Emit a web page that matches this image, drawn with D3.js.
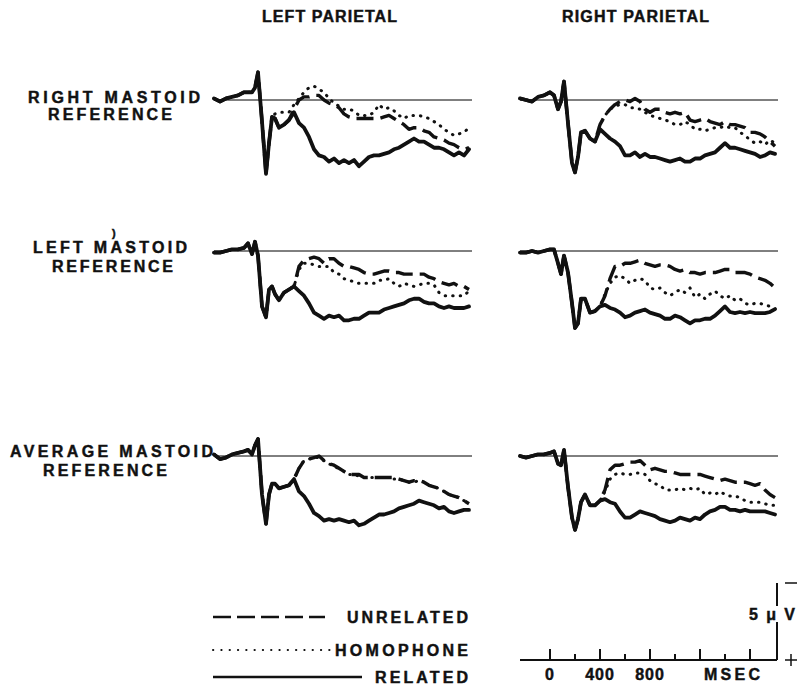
<!DOCTYPE html>
<html>
<head>
<meta charset="utf-8">
<script src="https://cdn.jsdelivr.net/npm/d3@7"></script>
<style>
  body { margin: 0; background: #fff; }
  svg text { font-family: "Liberation Sans", Arial, sans-serif; font-weight: bold; fill: #111; stroke: #111; stroke-width: 0.45; }
  svg text.title { font-family: "Liberation Sans Narrow", "Liberation Sans", Arial, sans-serif; }
</style>
</head>
<body>
<svg id="chart" width="797" height="689"></svg>
<script>
// sample times (ms); early part is denser to catch the fast deflections
const times = [-240, -192, -144, -96, -48, 0, 32, 64, 88, 112, 144, 176, 200, 224, 248,
  280, 320, 360, 400, 440, 480, 520, 560, 600, 640, 680, 720, 760, 800, 840, 880, 920, 960, 1000,
  1040, 1080, 1120, 1160, 1200, 1240, 1280, 1320, 1360, 1400, 1440, 1480, 1520, 1560, 1600,
  1640, 1680, 1720, 1760, 1800];

const columnTitles = ['LEFT PARIETAL', 'RIGHT PARIETAL'];
const rowTitles = [['RIGHT MASTOID', 'REFERENCE'], ['LEFT MASTOID', 'REFERENCE'], ['AVERAGE MASTOID', 'REFERENCE']];
const conditions = ['UNRELATED', 'HOMOPHONE', 'RELATED'];

// amplitudes in microvolts, positive plotted downward
const rmLeftUnrelated = [-0.1,0.1,-0.1,-0.2,-0.3,-0.5,-0.5,-0.5,-0.8,-1.8,1.4,4.8,2.8,1.1,1.2,
  1.8,1.6,1.3,0.6,0,-0.2,-0.2,-0.3,-0.3,0,0.2,0.3,0.5,0.9,1.1,1.2,1.2,1.2,1.2,1.2,1.2,1.1,1.0,1.2,1.4,1.6,1.9,1.8,1.8,2.0,2.1,2.4,2.5,2.6,2.8,2.9,3.1,3.2,3.1];
const rmLeftHomophone = [-0.1,0.1,-0.1,-0.2,-0.3,-0.5,-0.5,-0.5,-0.8,-1.8,1.4,4.8,2.8,1.1,0.9,
  0.8,0.8,0.8,0.3,-0.1,-0.5,-0.8,-0.9,-0.7,-0.5,-0.1,0.2,0.4,0.6,0.6,0.7,1.0,1.0,1.0,0.8,0.3,0.6,0.5,0.7,1.0,1.2,1.0,1.0,1.0,1.1,1.2,1.4,1.6,1.9,2.1,2.3,2.2,2.1,1.8];
const rmLeftRelated = [-0.1,0.1,-0.1,-0.2,-0.3,-0.5,-0.5,-0.5,-0.8,-1.8,1.4,4.8,2.8,1.1,1.2,
  1.8,1.6,1.3,0.8,1.5,1.8,2.4,3.2,3.6,3.7,4.0,3.8,4.1,3.9,4.1,3.9,4.3,4.0,3.7,3.6,3.6,3.5,3.4,3.2,3.1,2.9,2.7,2.5,2.7,2.7,2.9,3.1,3.1,3.2,3.4,3.6,3.4,3.6,3.2];

const rmRightUnrelated = [-0.1,0,0.1,-0.2,-0.3,-0.5,-0.3,0.6,0.1,-1.2,1.5,4.1,4.7,3.7,2.1,
  2.0,2.5,2.7,1.6,1.0,0.6,0.3,0.1,0,0.1,-0.1,0.1,0.6,0.8,0.6,0.6,0.8,0.9,0.8,0.9,0.8,1.3,1.4,1.3,1.2,1.4,1.5,1.6,1.4,1.6,1.6,1.7,1.8,2.1,2.1,2.2,2.4,2.7,3.0];
const rmRightHomophone = [-0.1,0,0.1,-0.2,-0.3,-0.5,-0.3,0.6,0.1,-1.2,1.5,4.1,4.7,3.7,2.1,
  2.0,2.5,2.7,1.6,1.0,0.6,0.4,0.3,0.3,0.5,0.5,0.6,0.8,1.0,1.1,1.2,1.3,1.4,1.6,1.6,1.4,1.6,1.9,1.9,2.0,1.9,1.8,1.8,1.7,1.8,1.8,2.1,2.3,2.6,2.8,2.7,2.9,2.6,2.8];
const rmRightRelated = [-0.1,0,0.1,-0.2,-0.3,-0.5,-0.3,0.6,0.1,-1.2,1.5,4.1,4.7,3.7,2.1,
  2.0,2.5,2.7,1.9,2.2,2.5,2.7,3.0,3.6,3.6,3.4,3.7,3.5,3.7,3.7,3.8,3.9,4.0,3.9,3.8,4.0,4.0,3.8,3.8,3.6,3.5,3.4,3.1,2.8,3.1,3.1,3.2,3.3,3.4,3.5,3.7,3.6,3.4,3.5];

const lmLeftUnrelated = [0.1,0.1,0,-0.1,-0.1,-0.2,-0.5,0.2,-0.6,0.3,3.6,4.3,2.5,2.3,2.8,
  3.2,2.7,2.5,2.3,1.0,0.6,0.5,0.4,0.5,0.8,0.5,0.5,0.8,1.0,1.0,1.1,1.2,1.4,1.5,1.5,1.4,1.3,1.3,1.4,1.4,1.5,1.5,1.5,1.5,1.5,1.7,1.8,2.0,2.1,2.2,2.1,2.3,2.3,2.5];
const lmLeftHomophone = [0.1,0.1,0,-0.1,-0.1,-0.2,-0.5,0.2,-0.6,0.3,3.6,4.3,2.5,2.3,2.8,
  3.2,2.7,2.5,2.3,1.2,0.8,0.8,0.9,1.0,1.0,1.0,1.4,1.5,1.8,1.9,2.0,2.1,2.1,2.1,2.1,1.9,1.9,1.8,2.1,2.3,2.1,2.2,2.3,2.2,2.1,2.1,2.2,2.7,2.9,2.9,2.9,2.9,2.9,2.6];
const lmLeftRelated = [0.1,0.1,0,-0.1,-0.1,-0.2,-0.5,0.2,-0.6,0.3,3.6,4.3,2.5,2.3,2.8,
  3.2,2.7,2.5,2.3,2.6,2.9,3.4,4.0,4.2,4.4,4.2,4.3,4.2,4.5,4.5,4.4,4.4,4.2,4.0,4.0,4.0,3.8,3.7,3.6,3.5,3.4,3.2,3.1,3.1,3.3,3.4,3.4,3.6,3.7,3.6,3.7,3.7,3.7,3.6];

const lmRightUnrelated = [0.1,0.1,0,0.1,0,-0.1,-0.1,0.8,1.5,0.3,1.4,3.4,5.0,4.7,3.1,
  3.1,4.0,3.9,3.6,2.9,1.8,1.0,1.0,0.8,0.8,0.7,0.6,0.8,0.9,1.0,0.9,0.9,1.0,1.2,1.3,1.2,1.4,1.4,1.5,1.4,1.4,1.4,1.3,1.2,1.2,1.4,1.4,1.4,1.5,1.7,1.8,1.9,2.1,2.4];
const lmRightHomophone = [0.1,0.1,0,0.1,0,-0.1,-0.1,0.8,1.5,0.3,1.4,3.4,5.0,4.7,3.1,
  3.1,4.0,3.9,3.6,2.8,2.1,1.7,1.6,1.8,2.1,1.9,1.8,1.9,2.4,2.5,2.4,2.7,2.9,2.7,2.5,2.7,2.4,3.0,2.8,3.1,2.8,2.6,2.9,3.1,2.9,3.2,3.1,3.4,3.5,3.4,3.4,3.5,3.6,3.6];
const lmRightRelated = [0.1,0.1,0,0.1,0,-0.1,-0.1,0.8,1.5,0.3,1.4,3.4,5.0,4.7,3.1,
  3.1,4.0,3.9,3.6,3.5,3.7,3.8,4.0,4.3,4.2,4.0,3.9,3.8,4.0,4.1,4.2,4.4,4.4,4.2,4.3,4.5,4.7,4.5,4.5,4.4,4.4,4.2,3.9,3.6,3.96,4.03,3.96,4.03,3.96,4.03,4.03,4.03,3.96,3.77];

const amLeftUnrelated = [-0.1,0.2,0.1,-0.1,-0.2,-0.3,-0.4,-0.1,-0.7,-1.1,2.5,4.4,2.5,1.8,1.8,
  2.1,2.0,1.9,1.5,0.8,0.3,0.2,0.1,0,0.3,0.5,0.6,0.8,1.0,1.2,1.2,1.2,1.4,1.4,1.4,1.4,1.4,1.4,1.4,1.5,1.6,1.7,1.6,1.6,1.7,1.9,2.0,2.1,2.3,2.5,2.6,2.7,2.9,3.1];
const amLeftHomophone = [-0.1,0.2,0.1,-0.1,-0.2,-0.3,-0.4,-0.1,-0.7,-1.1,2.5,4.4,2.5,1.8,1.8,
  2.1,2.0,1.9,1.5,0.8,0.3,0.2,0.1,0.1,0.3,0.5,0.7,0.8,1.0,1.2,1.2,1.3,1.4,1.4,1.4,1.4,1.4,1.4,1.5,1.5,1.6,1.7,1.7,1.6,1.7,1.9,2.0,2.1,2.3,2.5,2.6,2.7,2.9,3.0];
const amLeftRelated = [-0.1,0.2,0.1,-0.1,-0.2,-0.3,-0.4,-0.1,-0.7,-1.1,2.5,4.4,2.5,1.8,1.8,
  2.1,2.0,1.9,1.5,2.3,2.6,3.1,3.7,3.9,4.2,4.1,4.2,4.1,4.2,4.3,4.2,4.5,4.4,4.2,4.0,3.8,3.8,3.7,3.6,3.4,3.3,3.2,3.1,2.9,3.0,3.1,3.2,3.4,3.3,3.6,3.7,3.6,3.5,3.5];

const amRightUnrelated = [0,0.1,0,-0.1,-0.1,-0.2,-0.3,0.5,0.6,-0.4,2.0,4.0,4.8,4.1,3.0,
  2.5,3.2,3.2,2.9,2.2,0.9,0.6,0.6,0.5,0.4,0.4,0.3,0.6,0.9,0.8,0.9,1.0,1.0,1.1,1.2,1.2,1.2,1.2,1.2,1.3,1.4,1.5,1.6,1.5,1.6,1.7,1.7,1.7,1.8,1.9,1.8,2.2,2.5,2.7];
const amRightHomophone = [0,0.1,0,-0.1,-0.1,-0.2,-0.3,0.5,0.6,-0.4,2.0,4.0,4.8,4.1,3.0,
  2.5,3.2,3.2,2.9,2.3,1.5,1.2,1.1,1.2,1.2,1.1,1.1,1.2,1.6,1.8,1.9,2.2,2.2,2.2,2.1,2.2,2.1,2.2,2.1,2.5,2.4,2.5,2.3,2.5,2.6,2.6,2.7,2.9,3.0,3.0,3.0,3.1,3.2,3.2];
const amRightRelated = [0,0.1,0,-0.1,-0.1,-0.2,-0.3,0.5,0.6,-0.4,2.0,4.0,4.8,4.1,3.0,
  2.5,3.2,3.2,2.9,2.8,3.0,3.1,3.6,4.0,4.0,3.8,3.6,3.7,3.8,3.9,4.1,4.2,4.3,4.2,4.0,4.1,4.2,4.0,4.1,3.8,3.6,3.5,3.3,3.3,3.5,3.5,3.6,3.5,3.6,3.6,3.6,3.6,3.7,3.8];

// scale bar
const timeTicks = [0, 200, 400, 600, 800, 1000, 1200, 1400, 1600];
const timeLabels = ['0', '400', '800'];
const calibration = 5; // µV

const panels = [
  { row: 0, col: 0, series: [rmLeftUnrelated, rmLeftHomophone, rmLeftRelated] },
  { row: 0, col: 1, series: [rmRightUnrelated, rmRightHomophone, rmRightRelated] },
  { row: 1, col: 0, series: [lmLeftUnrelated, lmLeftHomophone, lmLeftRelated] },
  { row: 1, col: 1, series: [lmRightUnrelated, lmRightHomophone, lmRightRelated] },
  { row: 2, col: 0, series: [amLeftUnrelated, amLeftHomophone, amLeftRelated] },
  { row: 2, col: 1, series: [amRightUnrelated, amRightHomophone, amRightRelated] }
];

const svg = d3.select('#chart');
const colX = [214, 520];
const rowY = [100, 251, 456];
const pxPerMicrovolt = 15.4;

const styles = {
  UNRELATED: { width: 3.4, dash: '17,7', cap: 'butt' },
  HOMOPHONE: { width: 3, dash: '0.5,7', cap: 'round' },
  RELATED: { width: 3.8, dash: null, cap: 'round' }
};

function xScaleFor(col) {
  return d3.scaleLinear().domain([-240, 1800]).range([colX[col], colX[col] + 255]);
}
function yScaleFor(row) {
  return d3.scaleLinear().domain([0, calibration]).range([rowY[row], rowY[row] + calibration * pxPerMicrovolt]);
}

// column titles
const titleSpans = [[262, 135], [562, 147]];
columnTitles.forEach((t, i) => {
  svg.append('text').attr('class', 'title').attr('x', titleSpans[i][0]).attr('y', 22)
    .attr('font-size', 16).attr('textLength', titleSpans[i][1]).attr('lengthAdjust', 'spacing')
    .text(t);
});

// row titles
const rowSpans = [
  [[28, 103, 172], [48, 120, 124]],
  [[33, 253, 154], [52, 272, 121]],
  [[10, 457, 203], [43, 476, 124]]
];
rowTitles.forEach((lines, r) => {
  lines.forEach((t, k) => {
    const s = rowSpans[r][k];
    svg.append('text').attr('x', s[0]).attr('y', s[1])
      .attr('font-size', 16).attr('textLength', s[2]).attr('lengthAdjust', 'spacing')
      .text(t);
  });
});
svg.append('text').attr('x', 112).attr('y', 237).attr('font-size', 11)
  .attr('font-weight', 'normal').attr('stroke-width', 0).text(')');

// panels
panels.forEach(p => {
  const x = xScaleFor(p.col);
  const y = yScaleFor(p.row);
  const g = svg.append('g');

  g.append('line')
    .attr('x1', colX[p.col]).attr('x2', colX[p.col] + 258)
    .attr('y1', y(0)).attr('y2', y(0))
    .attr('stroke', '#000').attr('stroke-width', 1);

  const line = d3.line().x((d, i) => x(times[i])).y(d => y(d));

  // draw dotted first, solid last
  [1, 0, 2].forEach(k => {
    const st = styles[conditions[k]];
    g.append('path')
      .datum(p.series[k])
      .attr('d', line)
      .attr('fill', 'none')
      .attr('stroke', '#111')
      .attr('stroke-width', st.width)
      .attr('stroke-linecap', st.cap)
      .attr('stroke-linejoin', 'round')
      .attr('stroke-dasharray', st.dash);
  });
});

// legend
const legendRows = [
  { y: 617, end: 325, textX: 347, len: 121, lw: 2.6, dash: '18,6', cap: 'butt' },
  { y: 650, end: 333, textX: 335, len: 133, lw: 2, dash: '0.3,8', cap: 'round' },
  { y: 677, end: 362, textX: 375, len: 93, lw: 2.4, dash: null, cap: 'butt' }
];
conditions.forEach((c, i) => {
  const L = legendRows[i];
  svg.append('line').attr('x1', 213).attr('x2', L.end).attr('y1', L.y).attr('y2', L.y)
    .attr('stroke', '#111').attr('stroke-width', L.lw)
    .attr('stroke-dasharray', L.dash).attr('stroke-linecap', L.cap);
  svg.append('text').attr('x', L.textX).attr('y', L.y + 6)
    .attr('font-size', 16).attr('textLength', L.len).attr('lengthAdjust', 'spacing')
    .text(c);
});

// time and amplitude scale bar
const xs = xScaleFor(1);
const axisY = 660;
const barX = colX[1] + 257;
const bar = svg.append('g').attr('stroke', '#111');
bar.append('line').attr('x1', colX[1]).attr('x2', barX).attr('y1', axisY).attr('y2', axisY).attr('stroke-width', 2);
bar.selectAll('.tick').data(timeTicks).enter().append('line')
  .attr('x1', d => xs(d)).attr('x2', d => xs(d))
  .attr('y1', axisY).attr('y2', d => axisY - (d % 400 === 0 ? 11 : 6))
  .attr('stroke-width', 2);

const calTop = axisY - calibration * pxPerMicrovolt;
bar.append('line').attr('x1', barX).attr('x2', barX).attr('y1', calTop).attr('y2', 606).attr('stroke-width', 2);
bar.append('line').attr('x1', barX).attr('x2', barX).attr('y1', 622).attr('y2', axisY).attr('stroke-width', 2);
bar.append('line').attr('x1', 785).attr('x2', 797).attr('y1', calTop).attr('y2', calTop).attr('stroke-width', 1.5);
bar.append('line').attr('x1', 785).attr('x2', 797).attr('y1', axisY).attr('y2', axisY).attr('stroke-width', 1.5);
bar.append('line').attr('x1', 791).attr('x2', 791).attr('y1', axisY - 6).attr('y2', axisY + 6).attr('stroke-width', 1.5);

timeLabels.forEach(l => {
  svg.append('text').attr('x', xs(+l)).attr('y', 680).attr('text-anchor', 'middle')
    .attr('font-size', 16).attr('letter-spacing', 1).text(l);
});
svg.append('text').attr('x', 704).attr('y', 680).attr('font-size', 16)
  .attr('textLength', 56).attr('lengthAdjust', 'spacing').text('MSEC');
svg.append('text').attr('x', 749).attr('y', 620).attr('font-size', 16)
  .attr('textLength', 46).attr('lengthAdjust', 'spacing').text(calibration + 'μV');
</script>
</body>
</html>
